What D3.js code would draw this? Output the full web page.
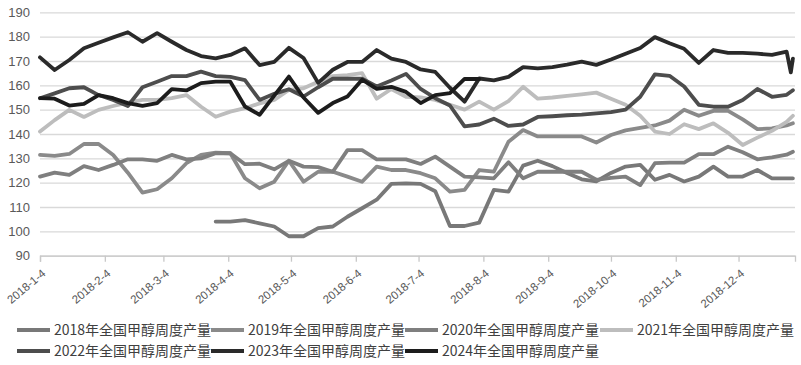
<!DOCTYPE html>
<html>
<head>
<meta charset="utf-8">
<script src="https://cdn.jsdelivr.net/npm/d3@7/dist/d3.min.js"></script>
<style>
  body { margin: 0; background: #fff; }
  svg { display: block; font-family: "Liberation Sans", Arial, sans-serif; }
  .legend text { font-family: "Noto Sans CJK SC", sans-serif; }
</style>
</head>
<body>
<svg width="801" height="365"></svg>
<script>
// weekly dates (all years drawn on the 2018 calendar)
const weeks = [
  "01-04","01-11","01-18","01-25","02-01","02-08","02-15","02-22",
  "03-01","03-08","03-15","03-22","03-29","04-05","04-12","04-19","04-26",
  "05-03","05-10","05-17","05-24","05-31","06-07","06-14","06-21","06-28",
  "07-05","07-12","07-19","07-26","08-02","08-09","08-16","08-23","08-30",
  "09-06","09-13","09-20","09-27","10-04","10-11","10-18","10-25",
  "11-01","11-08","11-15","11-22","11-29","12-06","12-13","12-20","12-27",
  "12-29","12-30"
];
const monthTicks = ["01-04","02-04","03-04","04-04","05-04","06-04","07-04","08-04","09-04","10-04","11-04","12-04"];
const yTicks = [90, 100, 110, 120, 130, 140, 150, 160, 170, 180, 190];

const names = ["2018年全国甲醇周度产量","2019年全国甲醇周度产量","2020年全国甲醇周度产量","2021年全国甲醇周度产量",
               "2022年全国甲醇周度产量","2023年全国甲醇周度产量","2024年全国甲醇周度产量"];

const y2018 = [null,null,null,null,null,null,null,null,null,null,null,null,
  104,104,104.6,103.3,102,98,98,101.3,102,106,
  109.5,113,119.5,119.7,119.5,116.5,102.2,102.2,103.6,117,
  116.3,127,129,126.8,124,121.4,120.5,124,126.6,127.3,
  121.2,123.2,120.5,122.5,126.6,122.5,122.5,125.2,121.8,121.8,
  null,121.8];
const y2019 = [131.4,131,131.8,135.9,135.9,131.4,124.1,115.9,117.3,121.8,
  128,131.4,132.3,132.1,121.8,117.7,120.4,129,120.4,124.5,
  124.5,122.5,120.4,126.6,125.2,125.2,123.9,121.8,116.3,117,
  125.2,124.5,136.8,141.6,139,139,139,139,136.5,139.6,
  141.5,142.5,143.5,145.5,150,147.5,149.5,149.5,146,142,
  142.3,143.5,null,144.4];
const y2020 = [122.5,124.1,123.2,126.8,125.2,127.3,129.6,129.6,129,131.4,
  129.6,130,132.1,132.1,127.6,127.8,125.5,129,126.6,126.4,
  124.5,133.4,133.4,129.6,129.6,129.6,127.7,130.7,126.6,122.5,
  122.2,121.8,128.4,121.8,124.5,124.5,124.5,124.5,121.2,122,
  122.5,119,128,128.2,128.2,131.7,131.7,134.8,132.5,129.6,
  130.4,131.5,null,132.7];
const y2021 = [141,145.7,149.9,147,149.9,151.5,152.9,154,154,154.7,
  156,151.2,147.1,149.2,150.6,152.6,154,158.1,158.8,161.5,
  163.8,164.2,165,154.5,158.5,155.3,155,154,152,150,
  153.3,150,153.5,159.4,154.5,155,155.7,156.3,157,154.5,
  152,147.5,141,140,144,142,144.4,140.5,135.5,138.5,
  141.3,145,null,147.5];
const y2022 = [154.7,156.7,158.8,159.2,156,154,151.5,159.2,161.5,163.8,
  163.8,165.6,163.8,163.5,162.1,154,156.5,158.4,155.4,159.2,
  162.7,162.7,162.7,159.5,162,164.7,158.5,154.7,151.7,143.1,
  143.9,146.3,143.3,143.9,147,147.3,147.7,148,148.5,149,
  150,155.3,164.5,163.9,159.5,152,151.2,151.2,154,158.5,
  155.3,156.1,null,158];
const y2023 = [171.5,166.3,170.4,175.2,177.5,179.7,181.8,177.9,181.4,177.9,
  174.5,172,171.1,172.5,175.2,168.3,169.6,175.4,171.2,161,
  166.4,169.6,169.6,174.5,171,169.6,166.5,165.5,159,153.3,
  162.8,162,163.5,167.5,167,167.5,168.5,169.7,168.4,170.6,
  173,175.3,179.8,177.3,175,169.2,174.5,173.3,173.3,173,
  172.5,173.8,165.3,171];
const y2024 = [154.7,154.5,151.7,152.4,156,154.7,152.7,151.6,152.7,158.4,
  157.9,160.9,161.5,161.5,151.3,147.9,155.8,163.6,155,148.7,
  152.7,155.4,162.3,158.5,159.4,157.3,152.7,156,156.8,162.6,
  162.6];

const values = [y2018, y2019, y2020, y2021, y2022, y2023, y2024];
const colors = ["#787878", "#8a8a8a", "#7f7f7f", "#bdbdbd", "#4d4d4d", "#2a2a2a", "#1c1c1c"];

const svg = d3.select("svg");
const parse = s => d3.timeParse("%Y-%m-%d")("2018-" + s);

const x = d3.scaleTime()
  .domain([parse("01-04"), parse("12-31")])
  .range([40, 795]);
const y = d3.scaleLinear().domain([90, 190]).range([255.7, 12.3]);

// grid + y labels
const gY = svg.append("g")
  .attr("transform", "translate(40,0)")
  .call(d3.axisLeft(y).tickValues(yTicks).tickSize(-755).tickPadding(10));
gY.select(".domain").remove();
gY.selectAll(".tick line").attr("stroke", "#d9d9d9").attr("stroke-width", 1.3);
gY.selectAll(".tick text").attr("fill", "#595959").style("font-size", "13px");

// x axis
const gX = svg.append("g")
  .attr("transform", "translate(0,255.7)")
  .call(d3.axisBottom(x)
    .tickValues(monthTicks.map(parse))
    .tickSize(6)
    .tickFormat(d => `2018-${d.getMonth() + 1}-4`));
gX.select(".domain").attr("stroke", "#c8c8c8").attr("stroke-width", 1.3);
gX.selectAll(".tick line").attr("stroke", "#c8c8c8").attr("stroke-width", 1.3);
gX.selectAll(".tick text")
  .attr("fill", "#595959")
  .style("font-size", "11.5px")
  .attr("text-anchor", "end")
  .attr("x", 0).attr("y", 0).attr("dy", null)
  .attr("transform", "translate(6,19) rotate(-40)");

// lines
const line = d3.line()
  .x(d => x(d.date))
  .y(d => y(d.v));

values.forEach((vals, i) => {
  const pts = weeks.map((w, j) => ({ date: parse(w), v: vals[j] }))
    .filter(p => p.v != null);
  svg.append("path")
    .datum(pts)
    .attr("fill", "none")
    .attr("stroke", colors[i])
    .attr("stroke-width", 3.8)
    .attr("stroke-linejoin", "round")
    .attr("stroke-linecap", "round")
    .attr("d", line);
});

// legend
const legend = svg.append("g").attr("class", "legend");
const legendPos = [[17, 330], [211, 330], [405, 330], [600, 330], [17, 351], [211, 351], [405, 351]];
names.forEach((n, i) => {
  const [lx, ly] = legendPos[i];
  const g = legend.append("g").attr("transform", `translate(${lx},${ly})`);
  g.append("line").attr("x1", 0).attr("x2", 33).attr("y1", 0).attr("y2", 0)
    .attr("stroke", colors[i]).attr("stroke-width", 3.8);
  g.append("text").attr("x", 37).attr("y", 0).attr("dy", "0.35em")
    .attr("fill", "#404040").style("font-size", "14px").text(n);
});
</script>
</body>
</html>
